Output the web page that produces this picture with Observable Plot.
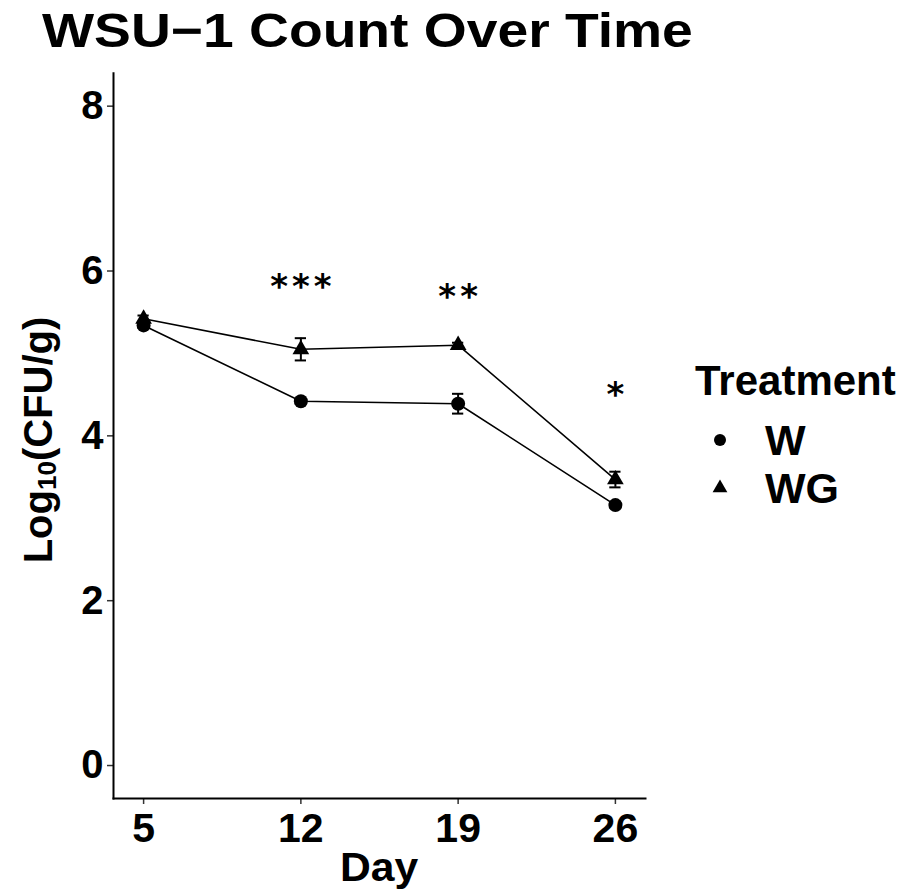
<!DOCTYPE html>
<html>
<head>
<meta charset="utf-8">
<script src="https://cdn.jsdelivr.net/npm/d3@7"></script>
<script src="https://cdn.jsdelivr.net/npm/@observablehq/plot@0.6"></script>
<style>
  html, body { margin: 0; padding: 0; background: white; }
  #wrap { position: relative; width: 906px; height: 890px; font-family: "Liberation Sans", Arial, Helvetica, sans-serif; color: black; }
  #title { height: 60px; margin: 0; font-size: 48px; font-weight: bold; line-height: 62px; white-space: nowrap; }
  #title span { display: inline-block; margin-left: 42px; transform: scaleX(1.15); transform-origin: left center; }
  .ylab { position: absolute; left: 38px; top: 440px; transform: translate(-50%, -50%) rotate(-90deg); font-size: 40px; font-weight: bold; white-space: nowrap; }
  .ylab sub { font-size: 26px; vertical-align: -4px; line-height: 0; }
  .xlab { position: absolute; left: 379px; top: 867px; transform: translate(-50%, -50%) scaleX(1.04); font-size: 41px; font-weight: bold; white-space: nowrap; }
  #legend { position: absolute; left: 695px; top: 358px; }
  #legend .lt { font-size: 42px; font-weight: bold; line-height: 46px; margin-bottom: 12px; }
  #legend .row { display: flex; align-items: center; height: 48px; font-size: 43px; font-weight: bold; }
  #legend .row svg { width: 50px; height: 48px; margin-right: 20px; }
  svg [aria-label="x-axis tick"], svg [aria-label="y-axis tick"] { stroke: #333; }
  svg g.sig text { letter-spacing: 4px; }
</style>
</head>
<body>
<div id="wrap">
  <div id="title"><span>WSU−1 Count Over Time</span></div>
  <div id="chart"></div>
  <div class="ylab">Log<sub>10</sub>(CFU/g)</div>
  <div class="xlab">Day</div>
  <div id="legend"></div>
</div>
<script>
// ---- data ----
const days = [5, 12, 19, 26];
const treatments = ["W", "WG"];
const wMean = [5.34, 4.42, 4.39, 3.16];
const wSE = [0.03, 0.03, 0.12, 0.03];
const wgMean = [5.42, 5.05, 5.10, 3.47];
const wgSE = [0.04, 0.135, 0.03, 0.095];
const sigLabels = ["***", "**", "*"];
const sigDays = [12, 19, 26];
const sigY = [5.80, 5.68, 4.49];
const yTicks = [0, 2, 4, 6, 8];
const legendTitle = "Treatment";

const rows = [
  ...days.map((d, i) => ({day: d, trt: "W", mean: wMean[i], se: wSE[i]})),
  ...days.map((d, i) => ({day: d, trt: "WG", mean: wgMean[i], se: wgSE[i]}))
];
const sig = sigDays.map((d, i) => ({day: d, y: sigY[i], label: sigLabels[i]}));
const capHalf = 0.25;

const plot = Plot.plot({
  width: 906,
  height: 830,
  marginTop: 12.7,
  marginBottom: 92,
  marginLeft: 113,
  marginRight: 261,
  style: {fontFamily: '"Liberation Sans", Arial, sans-serif', fontSize: "36px", fontWeight: "bold", color: "black", background: "white", overflow: "visible"},
  x: {domain: [3.66, 27.34]},
  y: {domain: [-0.4, 8.4]},
  marks: [
    Plot.axisX({ticks: days, tickSize: 6, tickPadding: 8, label: null, fontSize: 41, fontWeight: "bold", strokeWidth: 1.5}),
    Plot.axisY({ticks: yTicks, tickSize: 6, tickPadding: 4, label: null, fontSize: 40, fontWeight: "bold", strokeWidth: 1.5}),
    Plot.frame({anchor: "left", stroke: "black", strokeWidth: 2}),
    Plot.frame({anchor: "bottom", stroke: "black", strokeWidth: 2}),
    Plot.line(rows, {x: "day", y: "mean", z: "trt", stroke: "black", strokeWidth: 1.6}),
    Plot.ruleX(rows, {x: "day", y1: d => d.mean - d.se, y2: d => d.mean + d.se, stroke: "black", strokeWidth: 2}),
    Plot.ruleY(rows, {y: d => d.mean + d.se, x1: d => d.day - capHalf, x2: d => d.day + capHalf, stroke: "black", strokeWidth: 2}),
    Plot.ruleY(rows, {y: d => d.mean - d.se, x1: d => d.day - capHalf, x2: d => d.day + capHalf, stroke: "black", strokeWidth: 2}),
    Plot.dot(rows.filter(d => d.trt === "W"), {x: "day", y: "mean", symbol: "circle", r: 7, fill: "black", stroke: null}),
    Plot.dot(rows.filter(d => d.trt === "WG"), {x: "day", y: "mean", symbol: "triangle", r: 6.2, fill: "black", stroke: null}),
    Plot.text(sig, {x: "day", y: "y", text: "label", fontSize: 34, fontWeight: "bold", fontFamily: "DejaVu Sans", fill: "black", dx: 2, className: "sig"})
  ]
});
document.getElementById("chart").appendChild(plot);

// legend
const leg = document.getElementById("legend");
const t = document.createElement("div");
t.className = "lt";
t.textContent = legendTitle;
leg.appendChild(t);
const syms = {W: d3.symbol(d3.symbolCircle, Math.PI * 36)(), WG: d3.symbol(d3.symbolTriangle, Math.PI * 30)()};
treatments.forEach(tr => {
  const r = document.createElement("div");
  r.className = "row";
  r.innerHTML = `<svg viewBox="-25 -24 50 48"><path d="${syms[tr]}" fill="black"></path></svg><span>${tr}</span>`;
  leg.appendChild(r);
});
</script>
</body>
</html>
